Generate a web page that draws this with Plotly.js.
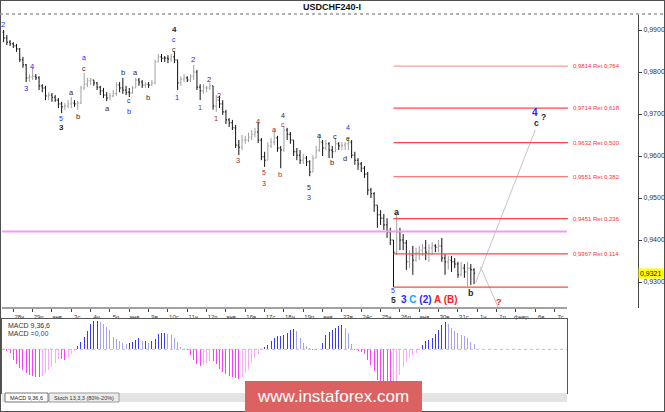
<!DOCTYPE html>
<html><head><meta charset="utf-8">
<script src="https://cdn.plot.ly/plotly-3.0.1.min.js"></script>
<style>html,body{margin:0;padding:0;background:#fff}#chart{width:665px;height:412px}</style>
</head><body><div id="chart"></div>
<script>
// ---------------- DATA ----------------
const symbol = "USDCHF240-I";
const dayLabels = ["28ч","29п","янв.","3с","4ч","5п","янв.","9в","10с","11ч","12п","янв.","16в","17с","18ч","19п","янв.","23в","24с","25ч","26п","янв.","30в","31с","1ч","2п","февр.","6в","7с"];
const firstOpen = 0.9895;
const close = [
.9881,.9871,.9867,.9862,.9855,.9829,.9817,.9786,.9788,.9790,
.9786,.9767,.9762,.9743,.9745,.9740,.9733,.9724,.9717,.9719,
.9724,.9726,.9724,.9726,.9762,.9771,.9779,.9781,.9774,.9764,
.9755,.9745,.9738,.9743,.9748,.9769,.9762,.9757,.9752,.9750,
.9762,.9781,.9776,.9769,.9771,.9769,.9774,.9824,.9836,.9833,
.9833,.9831,.9836,.9829,.9774,.9783,.9786,.9781,.9790,.9800,
.9764,.9755,.9762,.9762,.9767,.9719,.9733,.9724,.9705,.9686,
.9679,.9667,.9626,.9621,.9638,.9638,.9645,.9652,.9657,.9638,
.9598,.9590,.9624,.9633,.9643,.9619,.9614,.9662,.9652,.9638,
.9610,.9602,.9590,.9595,.9586,.9562,.9595,.9614,.9633,.9619,
.9629,.9614,.9610,.9629,.9624,.9626,.9629,.9633,.9602,.9590,
.9581,.9571,.9557,.9519,.9510,.9483,.9460,.9452,.9436,.9419,
.9400,.9371,.9419,.9400,.9393,.9348,.9364,.9352,.9371,.9376,
.9381,.9371,.9381,.9386,.9383,.9386,.9357,.9348,.9352,.9348,
.9343,.9317,.9333,.9324,.9333,.9329,.9321];
const high = [
.9900,.9888,.9876,.9871,.9867,.9857,.9836,.9819,.9795,.9810,
.9795,.9790,.9771,.9767,.9752,.9750,.9745,.9738,.9729,.9726,
.9733,.9740,.9733,.9731,.9767,.9798,.9786,.9786,.9781,.9776,
.9767,.9762,.9752,.9750,.9757,.9776,.9776,.9786,.9767,.9762,
.9767,.9786,.9786,.9781,.9776,.9776,.9781,.9829,.9843,.9843,
.9838,.9840,.9843,.9848,.9829,.9790,.9795,.9790,.9795,.9817,
.9805,.9771,.9771,.9767,.9774,.9767,.9745,.9743,.9733,.9710,
.9690,.9686,.9674,.9638,.9650,.9648,.9655,.9662,.9667,.9681,
.9643,.9610,.9633,.9643,.9662,.9648,.9624,.9671,.9667,.9657,
.9638,.9619,.9614,.9605,.9600,.9590,.9602,.9624,.9648,.9638,
.9638,.9633,.9624,.9643,.9633,.9633,.9633,.9643,.9638,.9610,
.9595,.9586,.9576,.9562,.9524,.9514,.9483,.9471,.9462,.9452,
.9429,.9400,.9467,.9429,.9414,.9400,.9376,.9386,.9381,.9386,
.9390,.9400,.9390,.9395,.9390,.9400,.9405,.9367,.9362,.9362,
.9357,.9348,.9348,.9343,.9348,.9343,.9333];
const low = [
.9871,.9864,.9862,.9857,.9848,.9824,.9810,.9776,.9776,.9781,
.9781,.9757,.9752,.9733,.9733,.9729,.9729,.9714,.9702,.9710,
.9714,.9714,.9717,.9710,.9724,.9757,.9764,.9769,.9767,.9757,
.9745,.9738,.9731,.9733,.9740,.9743,.9752,.9748,.9745,.9740,
.9748,.9762,.9767,.9762,.9762,.9762,.9767,.9771,.9824,.9824,
.9824,.9821,.9824,.9821,.9757,.9767,.9776,.9776,.9776,.9781,
.9757,.9733,.9748,.9752,.9757,.9710,.9705,.9714,.9698,.9676,
.9669,.9662,.9619,.9602,.9614,.9629,.9633,.9638,.9645,.9631,
.9590,.9574,.9590,.9619,.9626,.9610,.9571,.9610,.9638,.9629,
.9600,.9590,.9581,.9581,.9576,.9552,.9562,.9595,.9610,.9600,
.9614,.9595,.9595,.9610,.9614,.9614,.9614,.9614,.9595,.9579,
.9567,.9562,.9548,.9507,.9500,.9467,.9429,.9436,.9424,.9405,
.9388,.9288,.9364,.9376,.9376,.9329,.9333,.9317,.9348,.9352,
.9362,.9352,.9348,.9364,.9371,.9371,.9348,.9317,.9329,.9324,
.9333,.9310,.9314,.9310,.9290,.9293,.9295];
const macdHist = [
-1,-2,-4,-11,-15,-19,-21,-24,-26,-27,
-28,-28,-27,-24,-21,-18,-14,-10,-10,-11,
-8,-5,-2,3,7,12,18,25,28,28,
27,25,22,19,12,10,8,6,5,6,
7,9,11,8,8,6,8,10,15,16,
16,15,14,11,7,2,-0.5,-1,-6,-11,
-15,-17,-16,-14,-12,-12,-15,-20,-23,-25,
-27,-28,-29,-30,-28,-24,-20,-14,-9,-5,
-1,2,4,8,11,13,13,14,16,19,
20,18,11,6,3,1,-1,-1,0.5,6,
14,17,19,21,23,24,21,16,5,-1,
-2,-3,-5,-11,-16,-22,-31,-36,-38,-39,
-39,-38,-35,-26,-18,-13,-9,-6,-4,-1,
4,8,9,11,15,19,24,27,25,21,
18,16,14,13,11,7,5];
const fibLevels = [0.9814,0.9714,0.9632,0.9551,0.9451,0.9367,0.9288];
const fibRatios = ["0,764","0,618","0,500","0,382","0,236","0,114",""];
const magentaLevel = 0.9420;
const lastPrice = 0.9321;
const priceTicks = [0.93,0.94,0.95,0.96,0.97,0.98,0.99];
const projUpX = [146.5,165], projUpY = [0.9298,0.9662];
const projDownX = [148,153.5], projDownY = [0.9336,0.9240];
const macdName = "MACD 9,36,6", macdValue = "0,00";
const tabNames = ["MACD 9,36,6","Stoch 13,3,3 (80%-20%)"];
const watermark = "www.instaforex.com";

// ---------------- LAYOUT HELPERS ----------------
const W=665,H=412;
const fx=p=>p/W, fy=p=>1-p/H;
const A=3.63, B=3.222;           // pixel of bar 0, pixels per bar
const xi=p=>(p-A)/B;
const idx = close.map((_,i)=>i);
const open = close.map((c,i)=>i===0?firstOpen:close[i-1]);
const tickIdx = dayLabels.map((_,k)=>3+6*k);
const fmt = v=>v.toFixed(4).replace('.',',');
const FONT = "Liberation Sans, Arial, sans-serif";

// MACD colours: saturated when magnitude grows, light when it shrinks
const macdColors = macdHist.map((v,i)=>{
  const p = i>0?macdHist[i-1]:0;
  if (v>=0) return (v>=p)?'#3a3aff':'#a4a4f2';
  return (v<=p)?'#ff3cff':'#ffa6ff';
});

const traces = [
  {type:'ohlc', x:idx, open:open, high:high, low:low, close:close,
   increasing:{line:{color:'#a0a0a0',width:1}}, decreasing:{line:{color:'#111',width:1}},
   tickwidth:0.35, xaxis:'x', yaxis:'y', hoverinfo:'skip'},
  {type:'scatter', mode:'lines', x:projUpX, y:projUpY, line:{color:'#c4c4c4',width:1}, xaxis:'x', yaxis:'y', hoverinfo:'skip'},
  {type:'scatter', mode:'lines', x:projDownX, y:projDownY, line:{color:'#c4c4c4',width:1}, xaxis:'x', yaxis:'y', hoverinfo:'skip'},
  {type:'bar', x:idx, y:macdHist, width:0.3, marker:{color:macdColors,line:{width:0}}, xaxis:'x2', yaxis:'y2', hoverinfo:'skip'}
];

const lowIdx = low.indexOf(Math.min(...low));
const fibEnd = xi(568);
const shapes = [];
const annotations = [];

// frame and title separator
shapes.push({type:'rect',xref:'paper',yref:'paper',x0:0,x1:1,y0:0,y1:1,line:{color:'#505050',width:2}});
shapes.push({type:'line',xref:'paper',yref:'paper',x0:0,x1:1,y0:fy(14),y1:fy(14),line:{color:'#9a9a9a',width:1.5,dash:'dot'}});
// bottom time axis line (only up to the indicator panel width)
shapes.push({type:'line',xref:'paper',yref:'paper',x0:fx(2),x1:fx(567),y0:fy(308),y1:fy(308),line:{color:'#444',width:1}});
// magenta level
shapes.push({type:'line',xref:'x',yref:'y',x0:xi(0),x1:xi(567),y0:magentaLevel,y1:magentaLevel,line:{color:'#f09cf0',width:2}});
// fib levels
fibLevels.forEach((lv,k)=>{
  const col = k===0?'#ff9c9c':(k===3?'#ff7a7a':'#ff4646');
  shapes.push({type:'line',xref:'x',yref:'y',x0:lowIdx,x1:fibEnd,y0:lv,y1:lv,line:{color:col,width:1.2}});
  if (fibRatios[k]) annotations.push({xref:'x',yref:'y',x:xi(571),y:lv,xanchor:'left',yanchor:'middle',showarrow:false,
    text:fmt(lv)+' Ret '+fibRatios[k],font:{family:FONT,size:6,color:'#ff3030'}});
});
// MACD zero line
shapes.push({type:'line',xref:'x2',yref:'y2',x0:xi(2),x1:xi(567),y0:0,y1:0,line:{color:'#bdbdbd',width:1,dash:'dot'}});
// tab strip
shapes.push({type:'rect',xref:'paper',yref:'paper',x0:fx(2),x1:fx(567),y0:fy(402),y1:fy(393),fillcolor:'#e4e4e4',line:{width:0}});
shapes.push({type:'rect',xref:'paper',yref:'paper',x0:fx(5),x1:fx(48),y0:fy(402),y1:fy(393),fillcolor:'#ffffff',line:{color:'#777',width:1}});
shapes.push({type:'rect',xref:'paper',yref:'paper',x0:fx(49),x1:fx(119),y0:fy(402),y1:fy(393),fillcolor:'#ececec',line:{color:'#999',width:1}});
// watermark box
shapes.push({type:'rect',xref:'paper',yref:'paper',x0:fx(245),x1:fx(422),y0:fy(412),y1:fy(381),fillcolor:'#dc6262',line:{width:0}});

// texts
annotations.push({xref:'paper',yref:'paper',x:fx(332),y:fy(7),text:'<b>'+symbol+'</b>',showarrow:false,font:{family:FONT,size:9,color:'#111'},xanchor:'center',yanchor:'middle'});
annotations.push({xref:'paper',yref:'y',x:fx(638),y:lastPrice,text:fmt(lastPrice),showarrow:false,xanchor:'left',yanchor:'middle',
  bgcolor:'#ffff00',borderpad:1,font:{family:FONT,size:7,color:'#111'}});
annotations.push({xref:'paper',yref:'paper',x:fx(6),y:fy(325),text:macdName,showarrow:false,xanchor:'left',yanchor:'middle',font:{family:FONT,size:7,color:'#333'}});
annotations.push({xref:'paper',yref:'paper',x:fx(6),y:fy(333),text:'MACD =<span style="color:#2a2aff">'+macdValue+'</span>',showarrow:false,xanchor:'left',yanchor:'middle',font:{family:FONT,size:7,color:'#333'}});
annotations.push({xref:'paper',yref:'paper',x:fx(26),y:fy(397.5),text:tabNames[0],showarrow:false,xanchor:'center',yanchor:'middle',font:{family:FONT,size:5.5,color:'#222'}});
annotations.push({xref:'paper',yref:'paper',x:fx(84),y:fy(397.5),text:tabNames[1],showarrow:false,xanchor:'center',yanchor:'middle',font:{family:FONT,size:5.5,color:'#333'}});
annotations.push({xref:'paper',yref:'paper',x:fx(333),y:fy(396),text:watermark,showarrow:false,xanchor:'center',yanchor:'middle',font:{family:FONT,size:17,color:'#ffffff'}});

// wave labels: [text, px, py, color, size, bold]
const Bc='#2828ff',Kc='#2a2a2a',Rc='#a83232',Tc='#2f6f6f';
const waves = [
 ['2',3,25,Bc,7.5,0],['4',32,66,Bc,7.5,0],['3',26,88,Bc,7.5,0],['5',61,118,Bc,7,0],['3',61,128,Kc,8,1],
 ['a',71,92,Kc,7.5,0],['b',78,116,Kc,7.5,0],['a',84,58,Bc,7,0],['c',84,68,Kc,7,0],['a',107,108,Kc,7.5,0],
 ['b',123,72,Kc,7.5,0],['c',129,100,Kc,7,0],['b',129,111,Bc,7.5,0],['a',135,72,Kc,7.5,0],['b',148,97,Kc,7.5,0],
 ['4',174,30,Kc,8,1],['c',174,40,Bc,7,0],['c',174,50,Kc,7,0],['1',177,97,Bc,7.5,0],['2',193,60,Bc,7.5,0],
 ['1',200,107,Tc,7.5,0],['2',209,79,Kc,7.5,0],['2',219,95,Rc,7.5,0],['1',216,118,Rc,7.5,0],['3',238,160,Rc,7.5,0],
 ['4',258,122,Rc,7.5,0],['5',264,173,Rc,7,0],['3',264,183,'#4a4a2a',7,0],['a',274,129,Rc,7.5,0],['b',280,175,Rc,7.5,0],
 ['4',283,115,Kc,7,0],['c',283,125,Rc,7,0],['5',309,187,Kc,7,0],['3',309,197,Bc,7,0],['a',319,135,Kc,7.5,0],
 ['b',332,163,Kc,7.5,0],['c',335,136,Kc,7.5,0],['d',345,159,Kc,7.5,0],['4',348,128,Bc,7,0],['e',348,138,Kc,7,0],
 ['a',397,212,Kc,9,1],['5',393,290,Bc,7,0],['5',393,300,Kc,8.5,1],['b',471,293,Kc,9,1],
 ['4',535,112,Bc,10,1],['c',536,123,Kc,8.5,1],['?',543,117,Kc,8.5,1],['?',499,302,'#ff2020',9,1]
];
waves.forEach(w=>annotations.push({xref:'paper',yref:'paper',x:fx(w[1]),y:fy(w[2]),text:w[5]?'<b>'+w[0]+'</b>':w[0],
  showarrow:false,xanchor:'center',yanchor:'middle',font:{family:FONT,size:w[4],color:w[3]}}));
annotations.push({xref:'paper',yref:'paper',x:fx(399),y:fy(299),xanchor:'left',yanchor:'middle',showarrow:false,
  font:{family:FONT,size:10,color:Bc},
  text:'<b><span style="color:#2828ff">3</span> <span style="color:#10a8ff">C</span> <span style="color:#2828ff">(2)</span> <span style="color:#ff2020">A</span> <span style="color:#ff2020">(B)</span></b>'});

const layout = {
  width:W,height:H,margin:{l:0,r:0,t:0,b:0},paper_bgcolor:'#ffffff',plot_bgcolor:'rgba(0,0,0,0)',
  showlegend:false,separators:', ',font:{family:FONT,size:7,color:'#333'},
  xaxis:{domain:[fx(2),fx(638)],range:[xi(2),xi(638)],rangeslider:{visible:false},showgrid:false,zeroline:false,showline:false,
    tickmode:'array',tickvals:tickIdx,ticktext:dayLabels,ticks:'outside',ticklen:3,tickcolor:'#444',tickwidth:1,
    tickfont:{family:FONT,size:6,color:'#333'},ticklabelshift:6,anchor:'y'},
  yaxis:{domain:[fy(308),fy(15)],range:[0.99-(308-30)/4200,0.99+15/4200],side:'right',anchor:'x',showgrid:false,zeroline:false,
    showline:true,linecolor:'#444',linewidth:1,tickmode:'array',tickvals:priceTicks,ticktext:priceTicks.map(fmt),
    ticks:'outside',ticklen:3,tickcolor:'#444',tickfont:{family:FONT,size:7,color:'#333'}},
  xaxis2:{domain:[fx(2),fx(567)],range:[xi(2),xi(567)],anchor:'y2',showgrid:false,zeroline:false,showticklabels:false,ticks:'',
    showline:true,mirror:true,linecolor:'#555',linewidth:1},
  yaxis2:{domain:[fy(393),fy(319)],range:[-43.7,30.3],anchor:'x2',showgrid:false,zeroline:false,showticklabels:false,ticks:'',
    showline:true,mirror:true,linecolor:'#555',linewidth:1},
  bargap:0,shapes:shapes,annotations:annotations
};
Plotly.newPlot('chart',traces,layout,{staticPlot:true,displayModeBar:false});
</script></body></html>
